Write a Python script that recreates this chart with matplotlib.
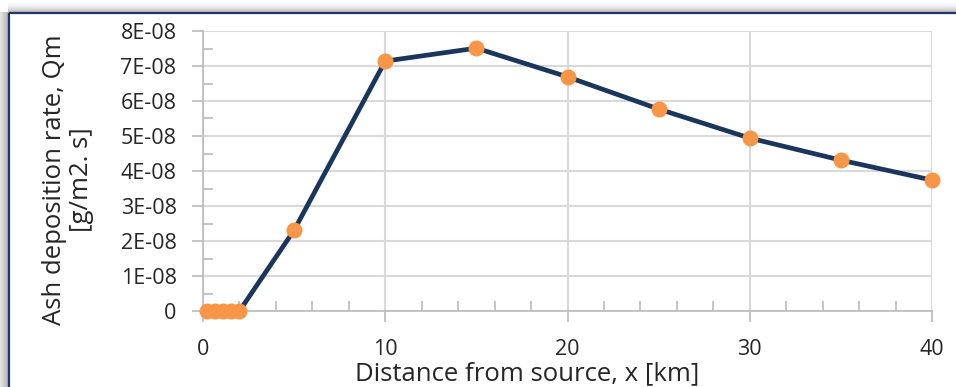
import numpy as np
import matplotlib
matplotlib.use("Agg")
import matplotlib.pyplot as plt
from matplotlib.ticker import MultipleLocator, FuncFormatter

# Data
distance_km = [0.2, 0.65, 1.1, 1.55, 2.0, 5, 10, 15, 20, 25, 30, 35, 40]
deposition = [0, 0, 0, 0, 0, 2.31e-08, 7.14e-08, 7.51e-08, 6.69e-08,
              5.77e-08, 4.94e-08, 4.31e-08, 3.74e-08]
x_label = "Distance from source, x [km]"
y_label = "Ash deposition rate, Qm\n[g/m2. s]"

plt.rcParams['font.family'] = ['Open Sans', 'DejaVu Sans']

W, H = 956, 387
fig = plt.figure(figsize=(W / 100, H / 100), dpi=100)

# background frame with shadow
bg = fig.add_axes([0, 0, 1, 1], zorder=-10)
img = np.ones((H, W, 3))
for i in range(12):
    v = 1.0 - 0.25 * (i / 11) ** 2
    img[i, 8:, :] = np.minimum(img[i, 8:, :], v)
for j in range(9):
    v = 0.90 - 0.22 * (j / 8)
    img[12:, j, :] = v
bg.imshow(img, aspect='auto', extent=[0, W, H, 0], interpolation='bilinear')
bg.plot([9, W], [13, 13], color='#1F3864', lw=1.6, solid_capstyle='butt')
bg.plot([9.5, 9.5], [13, H], color='#1F3864', lw=1.6, solid_capstyle='butt')
bg.set_xlim(0, W)
bg.set_ylim(H, 0)
bg.axis('off')

ax = fig.add_axes([203 / W, 1 - 311 / H, (932 - 203) / W, (311 - 31) / H])
ax.plot(distance_km, deposition, color='#1B365D', lw=3.4, zorder=3, clip_on=False)
ax.plot(distance_km, deposition, 'o', color='#F79646', ms=10.5, mec='#F79646',
        zorder=4, clip_on=False)

ax.set_xlim(0, 40)
ax.set_ylim(0, 8e-08)
ax.xaxis.set_major_locator(MultipleLocator(10))
ax.xaxis.set_minor_locator(MultipleLocator(2))
ax.yaxis.set_major_locator(MultipleLocator(1e-08))
ax.yaxis.set_minor_locator(MultipleLocator(0.5e-08))

def yfmt(v, pos):
    if abs(v) < 1e-12:
        return "0"
    m, e = f"{v:.0E}".split("E")
    return f"{m}E{e[0]}{int(e[1:]):02d}"
ax.yaxis.set_major_formatter(FuncFormatter(yfmt))

gcol = '#D9D9D9'
ax.grid(True, which='major', color=gcol, lw=1.5)
for s in ['top', 'right']:
    ax.spines[s].set_visible(False)
for s in ['left', 'bottom']:
    ax.spines[s].set_color('#BFBFBF')
    ax.spines[s].set_linewidth(1.3)
ax.tick_params(which='major', direction='out', length=8, width=1.3, color='#BFBFBF',
               labelsize=15.5, labelcolor='#262626')
ax.tick_params(axis='y', which='major', pad=11)
ax.tick_params(axis='x', which='major', pad=12)
ax.tick_params(which='minor', direction='in', length=7, width=1.3, color='#BFBFBF')

fig.text(527 / W, 1 - 374 / H, x_label, fontsize=18.5, color='#262626',
         ha='center', va='center')
fig.text(68 / W, 1 - 180 / H, y_label, fontsize=18.5, color='#262626',
         ha='center', va='center', rotation=90, multialignment='center',
         linespacing=1.15)

fig.savefig("out.png", dpi=100)
